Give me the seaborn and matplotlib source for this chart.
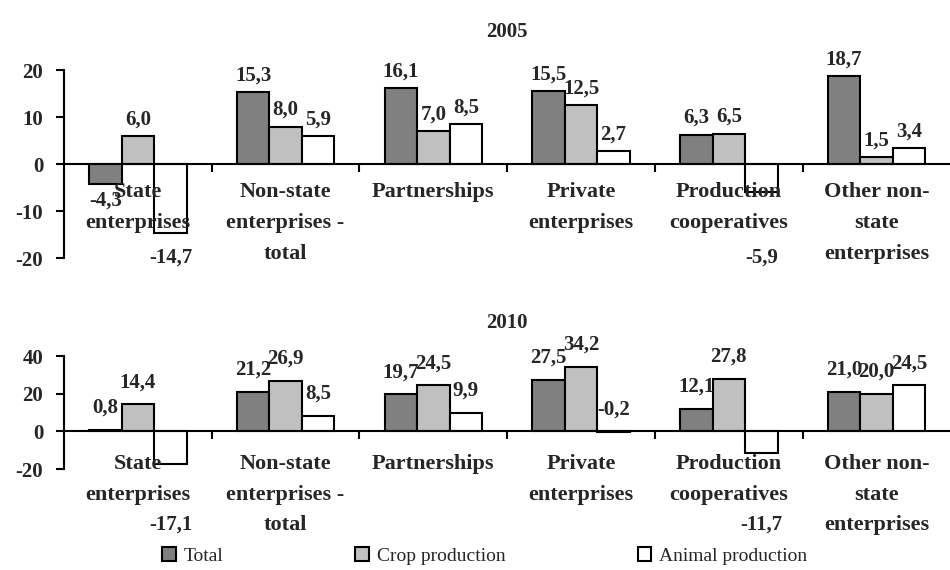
import numpy as np
import pandas as pd
import seaborn as sns
from matplotlib import pyplot as plt
from matplotlib.patches import Patch

categories = ["State\nenterprises", "Non-state\nenterprises -\ntotal", "Partnerships",
              "Private\nenterprises", "Production\ncooperatives", "Other non-\nstate\nenterprises"]
series = ["Total", "Crop production", "Animal production"]

total_2005 = [-4.3, 15.3, 16.1, 15.5, 6.3, 18.7]
crop_2005 = [6.0, 8.0, 7.0, 12.5, 6.5, 1.5]
animal_2005 = [-14.7, 5.9, 8.5, 2.7, -5.9, 3.4]

total_2010 = [0.8, 21.2, 19.7, 27.5, 12.1, 21.0]
crop_2010 = [14.4, 26.9, 24.5, 34.2, 27.8, 20.0]
animal_2010 = [-17.1, 8.5, 9.9, -0.2, -11.7, 24.5]

yticks_2005 = [-20, -10, 0, 10, 20]
yticks_2010 = [-20, 0, 20, 40]

colors = ["#808080", "#c0c0c0", "#ffffff"]


def to_long(total, crop, animal):
    # long table: one row per bar
    rows = []
    for name, vals in zip(series, [total, crop, animal]):
        for cat, v in zip(categories, vals):
            rows.append({"category": cat, "series": name, "value": v})
    return pd.DataFrame(rows)


def fmt(v):
    return f"{v:.1f}".replace(".", ",")


sns.set_style("white")
plt.rcParams["font.family"] = ["Liberation Serif", "DejaVu Serif"]
plt.rcParams["font.weight"] = "bold"
plt.rcParams["axes.unicode_minus"] = False

fig = plt.figure(figsize=(9.5, 5.7), dpi=100)
ax1 = fig.add_axes([0.0674, 0.547, 0.933, 0.33])
ax2 = fig.add_axes([0.0674, 0.177, 0.933, 0.198])

panels = [
    (ax1, "2005", to_long(total_2005, crop_2005, animal_2005), yticks_2005, 12, 24, -13),
    (ax2, "2010", to_long(total_2010, crop_2010, animal_2010), yticks_2010, 16, 20, -16),
]

for ax, year, df, yticks, pos_off, title_pad, lab_off in panels:
    sns.barplot(data=df, x="category", y="value", hue="series", order=categories,
                hue_order=series, palette=colors, saturation=1, width=0.66,
                edgecolor="black", linewidth=1.5, legend=False, ax=ax)

    # value labels
    for k, cont in enumerate(ax.containers):
        for bar in cont:
            v = bar.get_y() + bar.get_height() if bar.get_y() >= 0 else bar.get_y()
            x = bar.get_x() + bar.get_width() / 2
            if v > -1:
                y, off = max(v, 0), pos_off
            elif k == 2:
                y, off = 0, -67
            else:
                y, off = v, -12
            ax.annotate(fmt(v), (x, y), xytext=(0, off), textcoords="offset points",
                        ha="center", va="center", fontsize=15, fontweight="bold")

    # category names hang from the zero line
    for i, cat in enumerate(categories):
        ax.annotate(cat, (i, 0), xytext=(0, lab_off), textcoords="offset points",
                    ha="center", va="top", multialignment="center", linespacing=1.72,
                    fontsize=16, fontweight="bold", annotation_clip=False)

    ax.set_xlim(-0.5, 5.5)
    ax.set_ylim(yticks[0], yticks[-1])
    ax.set_yticks(yticks)
    ax.set_xticks(range(len(categories)))
    ax.set_xticklabels([])
    ax.set_xticks(np.arange(0.5, len(categories) - 1, 1), minor=True)
    ax.tick_params(axis="x", which="major", length=0)
    ax.tick_params(axis="x", which="minor", length=6, width=1.5, direction="out",
                   color="black", bottom=True)
    ax.tick_params(axis="y", length=6, width=1.5, direction="out", color="black",
                   labelsize=15, pad=9, left=True)
    for t in ax.get_yticklabels():
        t.set_fontweight("bold")
    ax.set_xlabel("")
    ax.set_ylabel("")
    ax.spines["top"].set_visible(False)
    ax.spines["right"].set_visible(False)
    ax.spines["bottom"].set_position(("data", 0))
    for s in ["left", "bottom"]:
        ax.spines[s].set_linewidth(1.5)
        ax.spines[s].set_color("black")
    ax.set_title(year, fontsize=15, fontweight="bold", pad=title_pad)

handles = [Patch(facecolor=c, edgecolor="black", linewidth=1.5) for c in colors]
fig.legend(handles, series, loc="center", bbox_to_anchor=(0.51, 0.025), ncol=3,
           frameon=False, prop={"family": "Liberation Serif", "weight": "normal", "size": 14},
           handlelength=0.7, handleheight=0.7, handletextpad=0.4, columnspacing=6.8)

fig.savefig("out.png", dpi=100)
